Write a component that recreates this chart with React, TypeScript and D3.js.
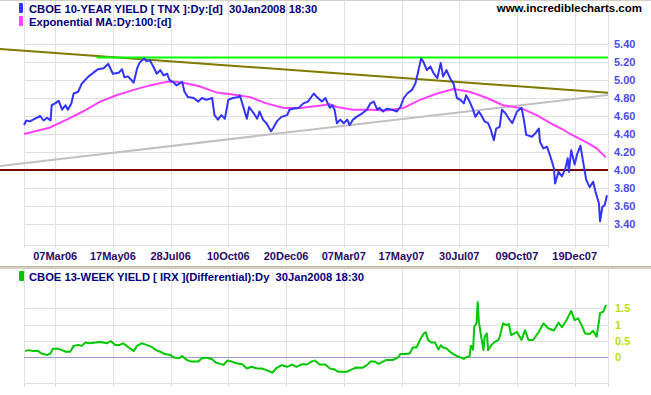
import React from 'react';
import * as d3 from 'd3';

// bar index (trading days from 27 Jan 2006), value
const tnx: [number, number][] = [
  [0, 4.5], [2, 4.55], [5, 4.54], [8, 4.56], [14, 4.6], [17, 4.55], [20, 4.58], [23, 4.55], [24, 4.72],
  [27, 4.74], [30, 4.77], [33, 4.67], [36, 4.72], [38, 4.67], [41, 4.74], [43, 4.85], [47, 4.87], [50, 4.96],
  [53, 5.0], [56, 5.04], [59, 5.07], [61, 5.09], [64, 5.12], [69, 5.13], [73, 5.18], [74, 5.15], [77, 5.07],
  [82, 5.08], [85, 5.12], [87, 5.03], [90, 5.04], [93, 5.0], [95, 4.97], [98, 5.13], [100, 5.19], [104, 5.24],
  [106, 5.21], [109, 5.22], [112, 5.15], [115, 5.07], [118, 5.11], [121, 5.05], [124, 5.07], [126, 5.0],
  [129, 4.98], [132, 4.94], [137, 4.98], [139, 4.87], [142, 4.81], [147, 4.8], [151, 4.76], [154, 4.8],
  [158, 4.78], [163, 4.8], [165, 4.61], [168, 4.56], [171, 4.61], [174, 4.57], [177, 4.78], [181, 4.8],
  [186, 4.81], [187, 4.83], [190, 4.7], [193, 4.57], [195, 4.7], [199, 4.63], [202, 4.57], [204, 4.65],
  [207, 4.56], [210, 4.52], [214, 4.43], [216, 4.47], [219, 4.54], [223, 4.59], [228, 4.61], [230, 4.67],
  [233, 4.68], [238, 4.69], [242, 4.74], [246, 4.76], [251, 4.85], [253, 4.82], [258, 4.76], [261, 4.8],
  [265, 4.69], [267, 4.72], [269, 4.67], [271, 4.52], [274, 4.56], [277, 4.52], [280, 4.56], [282, 4.5],
  [285, 4.56], [288, 4.59], [293, 4.63], [297, 4.67], [300, 4.74], [303, 4.76], [306, 4.67], [308, 4.69],
  [311, 4.65], [314, 4.68], [319, 4.67], [323, 4.65], [326, 4.7], [329, 4.8], [332, 4.85], [336, 4.89],
  [339, 4.96], [341, 5.07], [344, 5.24], [346, 5.2], [349, 5.11], [352, 5.15], [355, 5.07], [358, 5.02],
  [361, 5.19], [363, 5.04], [366, 5.11], [369, 5.02], [372, 4.96], [375, 4.8], [378, 4.78], [381, 4.74],
  [383, 4.83], [386, 4.76], [389, 4.67], [391, 4.59], [394, 4.65], [396, 4.61], [399, 4.54], [402, 4.52],
  [404, 4.46], [407, 4.33], [409, 4.46], [412, 4.48], [414, 4.67], [417, 4.63], [420, 4.57], [423, 4.52],
  [427, 4.65], [431, 4.69], [433, 4.56], [435, 4.39], [440, 4.37], [443, 4.41], [446, 4.46], [447, 4.31],
  [450, 4.24], [453, 4.26], [456, 4.15], [459, 4.02], [460, 3.85], [463, 3.98], [466, 3.93], [469, 4.02],
  [471, 4.13], [472, 3.98], [474, 4.22], [477, 4.06], [479, 4.17], [482, 4.27], [485, 4.04], [487, 3.89],
  [490, 3.81], [493, 3.87], [495, 3.76], [498, 3.63], [499, 3.43], [501, 3.59], [503, 3.61], [505, 3.72],
];

const ema100: [number, number][] = [
  [0, 4.4], [22, 4.47], [37, 4.56], [51, 4.65], [66, 4.76], [80, 4.83], [95, 4.89], [109, 4.94], [124, 4.98],
  [132, 4.98], [141, 4.96], [152, 4.93], [167, 4.86], [181, 4.84], [196, 4.81], [210, 4.74], [225, 4.69],
  [239, 4.69], [254, 4.71], [265, 4.73], [271, 4.7], [285, 4.67], [300, 4.67], [314, 4.66], [329, 4.69],
  [343, 4.78], [358, 4.85], [372, 4.9], [386, 4.87], [401, 4.8], [415, 4.72], [430, 4.69], [444, 4.61],
  [459, 4.5], [467, 4.45], [473, 4.4], [487, 4.31], [496, 4.24], [504, 4.14],
];

const irxDiff: [number, number][] = [
  [1, 0.19], [4, 0.22], [8, 0.19], [12, 0.2], [15, 0.12], [20, 0.07], [23, 0.12], [25, 0.26], [30, 0.26],
  [33, 0.22], [36, 0.17], [40, 0.17], [43, 0.35], [47, 0.38], [50, 0.35], [53, 0.45], [57, 0.43], [62, 0.45],
  [66, 0.47], [72, 0.43], [75, 0.5], [79, 0.38], [83, 0.38], [86, 0.43], [90, 0.32], [95, 0.19], [98, 0.35],
  [102, 0.43], [106, 0.38], [111, 0.31], [114, 0.23], [118, 0.17], [122, 0.1], [127, 0.07], [129, 0.0],
  [134, -0.03], [137, 0.04], [141, -0.08], [145, -0.13], [151, -0.13], [154, -0.03], [158, -0.01],
  [163, -0.06], [166, -0.16], [170, -0.2], [173, -0.23], [176, -0.1], [180, -0.13], [184, -0.18],
  [189, -0.21], [193, -0.34], [197, -0.29], [202, -0.34], [206, -0.34], [210, -0.39], [215, -0.47],
  [219, -0.32], [223, -0.24], [228, -0.29], [232, -0.22], [236, -0.29], [241, -0.21], [245, -0.22],
  [249, -0.13], [252, -0.1], [256, -0.22], [261, -0.22], [264, -0.31], [265, -0.34], [269, -0.37],
  [272, -0.44], [277, -0.44], [280, -0.44], [284, -0.37], [288, -0.31], [293, -0.32], [297, -0.24],
  [300, -0.13], [304, -0.13], [307, -0.2], [311, -0.13], [314, -0.08], [319, -0.08], [321, -0.06],
  [324, 0.0], [326, 0.1], [330, 0.1], [334, 0.12], [337, 0.31], [340, 0.3], [343, 0.53], [346, 0.71],
  [348, 0.77], [350, 0.53], [353, 0.45], [356, 0.45], [359, 0.24], [361, 0.37], [363, 0.3], [366, 0.27],
  [369, 0.17], [372, 0.1], [375, 0.04], [378, 0.0], [381, -0.05], [383, 0.0], [386, 0.04], [387, 0.35],
  [389, 0.23], [390, 0.94], [392, 1.04], [393, 1.68], [394, 1.09], [396, 0.63], [398, 0.22], [399, 0.63],
  [401, 0.73], [402, 0.22], [405, 0.38], [408, 0.48], [411, 0.53], [412, 0.63], [415, 1.04], [417, 0.99],
  [420, 1.01], [422, 0.68], [427, 0.78], [431, 0.53], [434, 0.83], [437, 0.53], [441, 0.53], [446, 0.78],
  [450, 1.04], [454, 0.89], [459, 0.82], [463, 1.06], [466, 0.92], [470, 1.14], [474, 1.42], [477, 1.14],
  [480, 1.19], [483, 0.99], [486, 0.73], [490, 0.71], [493, 0.81], [496, 0.63], [498, 1.09], [499, 1.35],
  [502, 1.4], [504, 1.6],
];

const dateLabels = ['07Mar06', '17May06', '28Jul06', '10Oct06', '20Dec06', '07Mar07', '17May07', '30Jul07', '09Oct07', '19Dec07'];
const dateBars = [27, 77, 127, 177, 227, 277, 327, 377, 427, 477];

const yieldTicks = [3.4, 3.6, 3.8, 4.0, 4.2, 4.4, 4.6, 4.8, 5.0, 5.2, 5.4];
const diffTicks = [0, 0.5, 1, 1.5];

// drawn lines: [bar0, value0, bar1, value1]
const resistance = [63, 5.25, 505, 5.25];
const support = [-21, 4.0, 505, 4.0];
const upperTrend = [-21, 5.344, 505, 4.859];
const lowerTrend = [-21, 4.044, 505, 4.833];

const W = 651;
const H = 395;
const L = 24;
const R = 608;
const FONT = '"Liberation Sans", Arial, sans-serif';

export default function App() {
  const x = d3.scaleLinear().domain([0, 505]).range([L, 607]);
  const y = d3.scaleLinear().domain([3.4, 5.4]).range([224, 44]);
  const y2 = d3.scaleLinear().domain([-0.8, 2.7]).range([383.5, 269]);

  const line1 = d3.line<[number, number]>().x(d => x(d[0])).y(d => y(d[1]));
  const line2 = d3.line<[number, number]>().x(d => x(d[0])).y(d => y2(d[1]));

  const vGrid = [L, ...dateBars.map(b => x(b)), R];
  const grid = '#e0e0e0';

  const seg = (s: number[], color: string) => (
    <line x1={x(s[0])} y1={y(s[1])} x2={x(s[2]) + 1} y2={y(s[3])} stroke={color} strokeWidth={2} />
  );

  return (
    <svg width={W} height={H} style={{ position: 'absolute', left: 0, top: 0, background: '#fff' }}>
      <rect x={0} y={0} width={W} height={H} fill="#fff" />
      <line x1={0} x2={W} y1={0.5} y2={0.5} stroke="#d4d0c8" />

      {/* top panel grid */}
      {vGrid.map((gx, i) => (
        <line key={'v' + i} x1={Math.round(gx) + 0.5} x2={Math.round(gx) + 0.5} y1={1} y2={248} stroke={grid} />
      ))}
      {yieldTicks.map(t => (
        <line key={'h' + t} x1={L} x2={R} y1={Math.round(y(t)) + 0.5} y2={Math.round(y(t)) + 0.5} stroke={grid} />
      ))}
      <line x1={L} x2={R} y1={245.5} y2={245.5} stroke={grid} />

      {seg(upperTrend, '#807800')}
      {seg(lowerTrend, '#c0c0c0')}
      {seg(support, '#800000')}
      {seg(resistance, '#00ff00')}

      <path d={line1(ema100) ?? ''} fill="none" stroke="#ff40ff" strokeWidth={2} />
      <path d={line1(tnx) ?? ''} fill="none" stroke="#3333ff" strokeWidth={2} strokeLinejoin="round" />

      {yieldTicks.map(t => (
        <text key={'yl' + t} x={614} y={y(t) + 4} fontFamily={FONT} fontSize={11} fontWeight="bold" fill="#4a4af5">
          {t.toFixed(2)}
        </text>
      ))}
      {dateLabels.map((lab, i) => (
        <text key={lab} x={x(dateBars[i])} y={260} textAnchor="middle" fontFamily={FONT} fontSize={11} fontWeight="bold" fill="#2a0a66">
          {lab}
        </text>
      ))}

      {/* legends */}
      <rect x={19} y={3} width={4} height={10} rx={1} fill="#3333ff" />
      <text x={29} y={12.5} fontFamily={FONT} fontSize={11.2} fontWeight="bold" fill="#000080" style={{ whiteSpace: 'pre' }}>
        {'CBOE 10-YEAR YIELD [ TNX ]:Dy:[d]  30Jan2008 18:30'}
      </text>
      <rect x={19} y={16} width={4} height={10} rx={1} fill="#ff40ff" />
      <text x={29} y={25.5} fontFamily={FONT} fontSize={11.2} fontWeight="bold" fill="#000080">
        Exponential MA:Dy:100:[d]
      </text>
      <text x={642} y={12} textAnchor="end" fontFamily={FONT} fontSize={11.5} fontWeight="bold" fill="#000">
        www.incrediblecharts.com
      </text>

      {/* separator */}
      <rect x={0} y={266} width={W} height={3} fill="#d4d0c8" />
      <line x1={0} x2={W} y1={266.5} y2={266.5} stroke="#bdb9a8" />

      {/* lower panel grid */}
      {vGrid.map((gx, i) => (
        <line key={'v2' + i} x1={Math.round(gx) + 0.5} x2={Math.round(gx) + 0.5} y1={269} y2={387} stroke={grid} />
      ))}
      {diffTicks.filter(t => t !== 0).map(t => (
        <line key={'h2' + t} x1={L} x2={R} y1={Math.round(y2(t)) + 0.5} y2={Math.round(y2(t)) + 0.5} stroke={grid} />
      ))}
      <line x1={L} x2={R} y1={383.5} y2={383.5} stroke={grid} />
      <line x1={L} x2={R} y1={Math.round(y2(0)) + 0.5} y2={Math.round(y2(0)) + 0.5} stroke="#9a9ad0" />

      <path d={line2(irxDiff) ?? ''} fill="none" stroke="#00c800" strokeWidth={2} strokeLinejoin="round" />

      {diffTicks.map(t => (
        <text key={'dl' + t} x={615} y={y2(t) + 4} fontFamily={FONT} fontSize={11} fontWeight="bold" fill="#b8e000">
          {String(t)}
        </text>
      ))}

      <rect x={19} y={271} width={5} height={10} rx={1} fill="#00c800" />
      <text x={29} y={280.5} fontFamily={FONT} fontSize={11.2} fontWeight="bold" fill="#000080" style={{ whiteSpace: 'pre' }}>
        {'CBOE 13-WEEK YIELD [ IRX ](Differential):Dy  30Jan2008 18:30'}
      </text>
    </svg>
  );
}
